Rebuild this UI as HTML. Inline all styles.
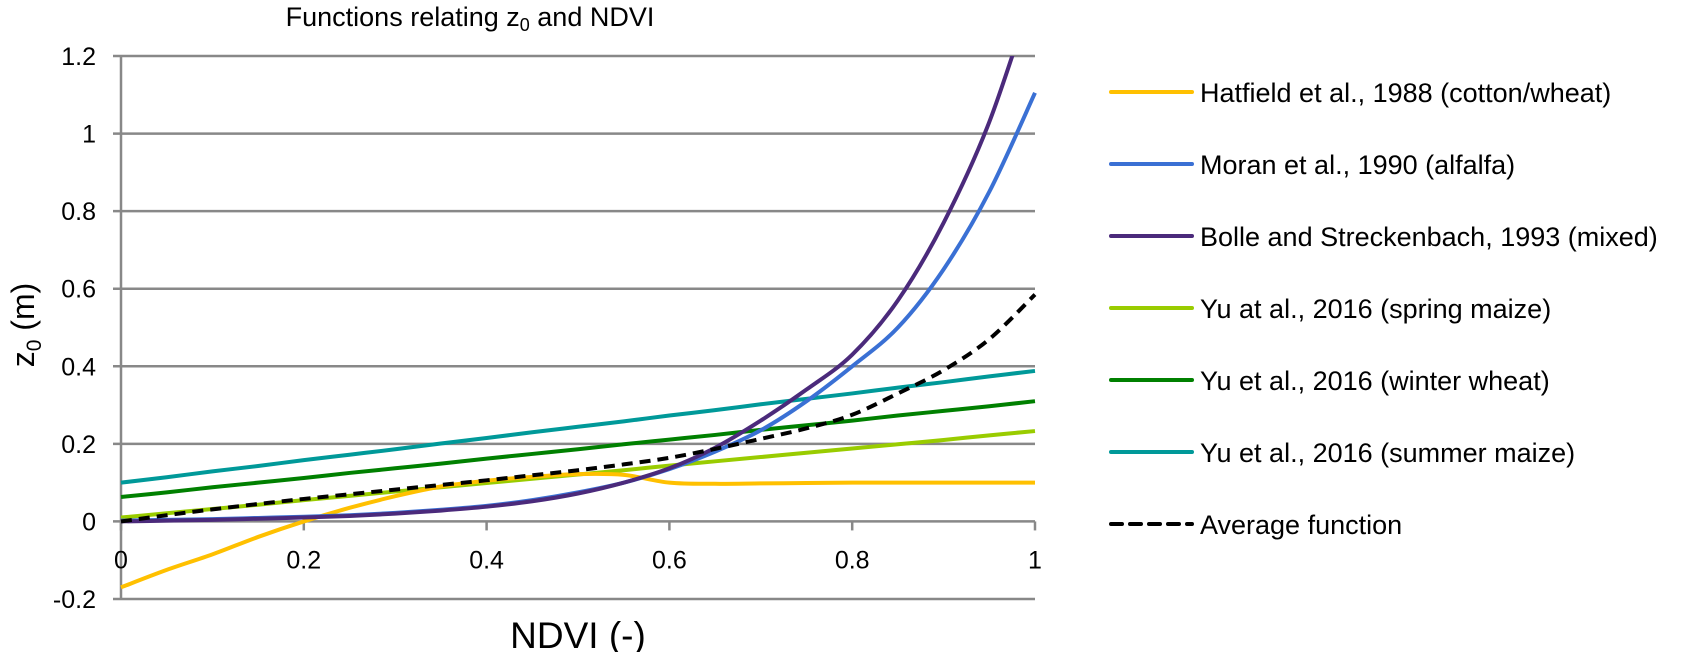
<!DOCTYPE html>
<html><head><meta charset="utf-8"><style>
body{margin:0;background:#fff;}
svg{display:block;font-family:"Liberation Sans",sans-serif;}
</style></head><body>
<svg id="chart" width="1701" height="652" viewBox="0 0 1701 652"></svg>
<script>
const xs = [0,0.05,0.1,0.15,0.2,0.25,0.3,0.35,0.4,0.45,0.5,0.55,0.6,0.65,0.7,0.75,0.8,0.85,0.9,0.95,1];
const hatfield = [-0.17,-0.125,-0.085,-0.04,0.0,0.035,0.065,0.09,0.105,0.115,0.122,0.12,0.1,0.097,0.098,0.099,0.1,0.1,0.1,0.1,0.1];
const moran = [0.002,0.004,0.006,0.009,0.012,0.016,0.022,0.03,0.04,0.055,0.075,0.1,0.135,0.18,0.235,0.31,0.4,0.5,0.65,0.85,1.105];
const bolle = [0,0.002,0.004,0.007,0.01,0.014,0.02,0.028,0.038,0.052,0.072,0.1,0.137,0.19,0.26,0.34,0.43,0.57,0.77,1.03,1.38];
const yuSpring = [0.01,0.021,0.032,0.043,0.055,0.066,0.077,0.088,0.099,0.11,0.121,0.132,0.144,0.155,0.166,0.177,0.188,0.199,0.21,0.222,0.233];
const yuWinter = [0.063,0.075,0.088,0.1,0.112,0.125,0.137,0.149,0.162,0.174,0.186,0.199,0.211,0.223,0.236,0.248,0.26,0.273,0.285,0.297,0.31];
const yuSummer = [0.1,0.114,0.129,0.143,0.158,0.172,0.186,0.201,0.215,0.23,0.244,0.258,0.273,0.287,0.302,0.316,0.33,0.345,0.359,0.374,0.388];
const average = [0,0.016,0.031,0.045,0.058,0.07,0.082,0.094,0.106,0.119,0.132,0.147,0.164,0.187,0.213,0.24,0.275,0.33,0.39,0.47,0.585];
const yTicks = [1.2,1,0.8,0.6,0.4,0.2,0,-0.2];
const yTickLabels = ["1.2","1","0.8","0.6","0.4","0.2","0","-0.2"];
const xTicks = [0,0.2,0.4,0.6,0.8,1];
const xTickLabels = ["0","0.2","0.4","0.6","0.8","1"];
const seriesNames = ["Hatfield et al., 1988 (cotton/wheat)","Moran et al., 1990 (alfalfa)","Bolle and Streckenbach, 1993 (mixed)","Yu at al., 2016 (spring maize)","Yu et al., 2016 (winter wheat)","Yu et al., 2016 (summer maize)","Average function"];

const NS="http://www.w3.org/2000/svg";
const svg=document.getElementById('chart');
const X0=121,X1=1035,YT=56,YB=599,VMIN=-0.2,VMAX=1.2;
const xS=v=>X0+(v-0)*(X1-X0);
const yS=v=>YB-(v-VMIN)/(VMAX-VMIN)*(YB-YT);
function mk(tag,attrs,parent){const e=document.createElementNS(NS,tag);for(const k in attrs)e.setAttribute(k,attrs[k]);(parent||svg).appendChild(e);return e;}

const defs=mk('defs',{});
const cp=mk('clipPath',{id:'plotclip'},defs);
mk('rect',{x:X0-5,y:YT,width:X1-X0+10,height:YB-YT},cp);

yTicks.forEach((t,i)=>{
  const g=mk('line',{x1:X0-8,x2:X1,y1:yS(t),y2:yS(t),stroke:'#888',"stroke-width":2.5});
  
  
  const tx=mk('text',{x:X0-25,y:yS(t)+9,"text-anchor":"end","font-size":25,fill:'#000'});
  tx.textContent=yTickLabels[i];
  
  
});
const ya=mk('line',{x1:X0,x2:X0,y1:YT,y2:YB,stroke:'#888',"stroke-width":2.5});


xTicks.forEach((t,i)=>{
  const tk=mk('line',{x1:xS(t),x2:xS(t),y1:yS(0),y2:yS(0)+9,stroke:'#888',"stroke-width":2.5});
  
  
  const tx=mk('text',{x:xS(t),y:yS(0)+47,"text-anchor":"middle","font-size":25,fill:'#000'});
  tx.textContent=xTickLabels[i];
  
  
});

function pathD(ys){
  const p=xs.map((x,i)=>[xS(x),yS(ys[i])]);
  let d='M'+p[0][0]+','+p[0][1];
  for(let i=0;i<p.length-1;i++){
    const p0=p[Math.max(0,i-1)],p1=p[i],p2=p[i+1],p3=p[Math.min(p.length-1,i+2)];
    const c1=[p1[0]+(p2[0]-p0[0])/6,p1[1]+(p2[1]-p0[1])/6];
    const c2=[p2[0]-(p3[0]-p1[0])/6,p2[1]-(p3[1]-p1[1])/6];
    d+=` C${c1[0]},${c1[1]} ${c2[0]},${c2[1]} ${p2[0]},${p2[1]}`;
  }
  return d;
}
const series=[hatfield,moran,bolle,yuSpring,yuWinter,yuSummer,average];
const colors=['#ffc000','#3a70d4','#4b2a7b','#99cc00','#008000','#009999','#000'];
const names=['hatfield-line','moran-line','bolle-line','yu-spring-maize-line','yu-winter-wheat-line','yu-summer-maize-line','average-line'];
const order=[5,4,3,0,1,2,6];
order.forEach(i=>{
  const pth=mk('path',{d:pathD(series[i]),fill:'none',stroke:colors[i],"stroke-width":4,"clip-path":"url(#plotclip)"});
  if(i===6)pth.setAttribute('stroke-dasharray','11,7');
  
  
});

const legY=[92,164,236,308,380,452,524];
seriesNames.forEach((n,i)=>{
  const g=mk('g',{});
  
  
  const l=mk('line',{x1:1111,x2:1192,y1:legY[i],y2:legY[i],stroke:colors[i],"stroke-width":4,"stroke-linecap":"round"},g);
  if(i===6)l.setAttribute('stroke-dasharray','11,8');
  const t=mk('text',{x:1200,y:legY[i]+10,"font-size":27,fill:'#000'},g);
  t.textContent=n;
});
</script>
<svg style="position:absolute;left:0;top:0" width="1701" height="652">
<text x="470" y="26" text-anchor="middle" font-size="27" font-family="Liberation Sans, sans-serif">Functions relating z<tspan font-size="18" dy="5">0</tspan><tspan dy="-5"> and NDVI</tspan></text>
<text transform="translate(34,325) rotate(-90)" text-anchor="middle" font-size="32" font-family="Liberation Sans, sans-serif">z<tspan font-size="21" dy="7">0</tspan><tspan dy="-7"> (m)</tspan></text>
<text x="578" y="648" text-anchor="middle" font-size="37" font-family="Liberation Sans, sans-serif">NDVI (-)</text>
</svg>
</body></html>
